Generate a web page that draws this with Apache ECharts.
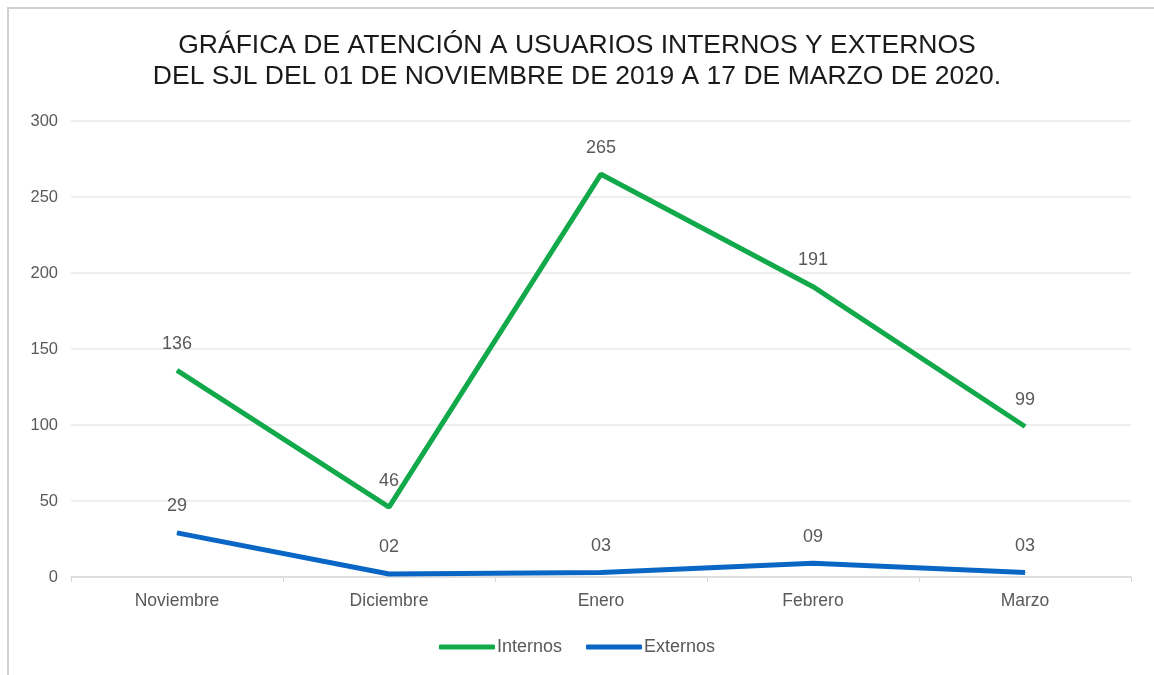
<!DOCTYPE html>
<html>
<head>
<meta charset="utf-8">
<script src="https://cdn.jsdelivr.net/npm/echarts@6/dist/echarts.min.js"></script>
<style>
  html, body { margin: 0; padding: 0; background: #fff; }
  #frame { position: absolute; left: 7px; top: 7px; width: 1147px; height: 668px;
           border-left: 2px solid #d0d0d0; border-top: 2px solid #d0d0d0; box-sizing: border-box; }
  #Line { position: absolute; left: 0; top: 0; width: 1154px; height: 675px; }
</style>
</head>
<body>
<div id="frame"></div>
<div id="Line"></div>
<script>
// datos
var meses = ["Noviembre", "Diciembre", "Enero", "Febrero", "Marzo"]
var internos = [136, 46, 265, 191, 99]
var externos = [29, 2, 3, 9, 3]

var Echarts = echarts.init(document.getElementById("Line"))
Echarts.setOption({
  textStyle: { fontFamily: "Liberation Sans, Arial, sans-serif" },
  title: {
    text: "GRÁFICA DE ATENCIÓN A USUARIOS INTERNOS Y EXTERNOS\nDEL SJL DEL 01 DE NOVIEMBRE DE 2019 A 17 DE MARZO DE 2020.",
    left: "center",
    top: 25,
    textStyle: { fontSize: 26.5, fontWeight: "normal", color: "#1a1a1a", lineHeight: 31 }
  },
  legend: {
    data: ["Internos", "Externos"],
    bottom: 14,
    left: "center",
    itemWidth: 56,
    itemHeight: 5,
    itemGap: 24,
    icon: "roundRect",
    textStyle: { fontSize: 18, color: "#595959", padding: [0, 0, 0, -3] }
  },
  grid: { left: 71, right: 23, top: 121, bottom: 98 },
  xAxis: {
    type: "category",
    boundaryGap: true,
    data: meses,
    axisLine: { lineStyle: { color: "#d9d9d9", width: 1.5 } },
    axisTick: { show: true, length: 5, lineStyle: { color: "#d9d9d9" } },
    axisLabel: { fontSize: 17.5, color: "#595959", margin: 15 }
  },
  yAxis: {
    type: "value",
    min: 0,
    max: 300,
    interval: 50,
    axisLine: { show: false },
    axisTick: { show: false },
    axisLabel: { fontSize: 16.5, color: "#595959", margin: 13 },
    splitLine: { lineStyle: { color: "#e8e8e8", width: 1.5 } }
  },
  series: [
    {
      name: "Internos",
      type: "line",
      data: internos,
      symbol: "circle",
      symbolSize: 1,
      color: "#12a94a",
      lineStyle: { width: 5, color: "#12a94a" },
      label: { show: true, position: "top", distance: 17, fontSize: 18, color: "#595959" }
    },
    {
      name: "Externos",
      type: "line",
      data: externos,
      symbol: "circle",
      symbolSize: 1,
      color: "#0a66c4",
      lineStyle: { width: 5, color: "#0a66c4" },
      label: {
        show: true, position: "top", distance: 17, fontSize: 18, color: "#595959",
        formatter: function (p) { return p.value < 10 ? "0" + p.value : String(p.value) }
      }
    }
  ]
})
</script>
</body>
</html>
